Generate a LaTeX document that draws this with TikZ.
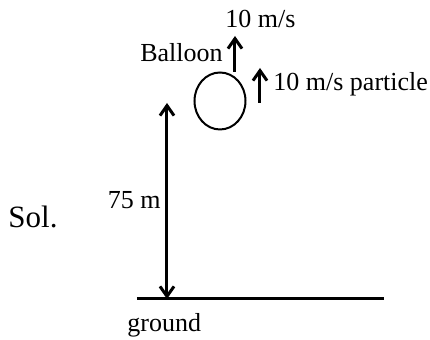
\documentclass[tikz,border=0pt]{standalone}
\usepackage{fontspec}
\setmainfont{Liberation Serif}
\usetikzlibrary{positioning,shapes.geometric,arrows.meta}

\begin{document}
\begin{tikzpicture}[x=0.5pt,y=0.5pt,
    >={Straight Barb[length=5pt,width=7pt]},
    txt/.style={inner sep=0pt,font=\fontsize{13}{15}\selectfont},
    bold line/.style={line width=1.5pt}]
    \useasboundingbox (0,0) rectangle (430,340);

    % Ground
    \coordinate (gleft) at (137,41);
    \coordinate (gright) at (384,41);
    \draw[bold line] (gleft) -- (gright);
    \node[txt, anchor=base west] (ground) at (127,8) {ground};

    % Height of balloon
    \coordinate (hbot) at (167,41);
    \coordinate (htop) at (167,237);
    \draw[bold line, <->] (hbot) -- (htop);
    \node[txt, anchor=base east] (height) at (161,131) {75 m};

    % Balloon and its velocity
    \node[draw, ellipse, line width=1pt, inner sep=0pt,
          minimum width=25.5pt, minimum height=28.5pt] (balloon) at (220,239) {};
    \coordinate (bfoot) at (235,268);
    \coordinate (bhead) at (235,304);
    \draw[bold line, ->] (bfoot) -- (bhead);
    \node[txt, anchor=base east] (bname) at (223,278) {Balloon};
    \node[txt, anchor=base west] (bspeed) at (225,312) {10 m/s};

    % Particle velocity
    \coordinate (pfoot) at (260,237);
    \coordinate (phead) at (260,272);
    \draw[bold line, ->] (pfoot) -- (phead);
    \node[txt, anchor=base west] (pspeed) at (273,249) {10 m/s particle};

    \node[txt, font=\fontsize{15.5}{18}\selectfont, anchor=base west] (sol) at (8,112) {Sol.};
\end{tikzpicture}
\end{document}
